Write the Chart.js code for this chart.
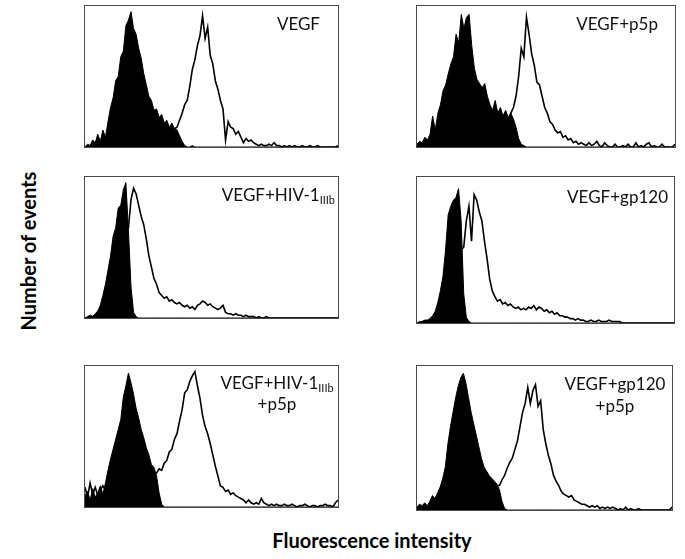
<!DOCTYPE html>
<html>
<head>
<meta charset="utf-8">
<script src="https://cdn.jsdelivr.net/npm/chart.js@4"></script>
<style>
  body { margin: 0; background: #fff; width: 685px; height: 559px; position: relative; overflow: hidden; font-family: Lato, sans-serif; color: #111; }
  .panel { position: absolute; border: 1px solid #4a4a4a; box-sizing: border-box; background: #fff; z-index: 1; }
  .panel canvas { display: block; }
  .lab { position: absolute; z-index: 2; font-size: 17px; line-height: 20px; white-space: nowrap; }
  .lab sub { font-size: 11px; line-height: 0; vertical-align: -3px; }
  .axis { position: absolute; font-weight: bold; font-size: 20px; line-height: 24px; text-align: center; white-space: nowrap; color: #000; }
</style>
</head>
<body>

<div class="axis" style="left:-72px; top:239px; width:200px; transform:rotate(-90deg);">Number of events</div>
<div class="axis" style="left:222px; top:528px; width:300px;">Fluorescence intensity</div>

<div class="lab" style="right:365px; top:14px;">VEGF</div>
<div class="lab" style="right:27px; top:14px;">VEGF+p5p</div>
<div class="lab" style="right:350px; top:185px;">VEGF+HIV-1<sub>IIIb</sub></div>
<div class="lab" style="right:17px; top:187px;">VEGF+gp120</div>
<div class="lab" style="left:197px; width:160px; top:372px; line-height:21px; text-align:center;">VEGF+HIV-1<sub>IIIb</sub><br>+p5p</div>
<div class="lab" style="left:535px; width:160px; top:373px; line-height:22px; text-align:center;">VEGF+gp120<br>+p5p</div>

<script>
// histogram channels (x axis, 100 bins across the log scale)
const channels = Array.from({ length: 100 }, (_, i) => i);

// filled histograms = control, open histograms = VEGF-treated (events as % of panel height)
const vegfCtrl = [
  0,2,1,5,3,9,4,12,7,18,
  28,35,47,50,64,68,86,90,96,84,
  80,70,63,52,44,36,33,26,27,21,
  23,17,19,14,17,13,12,8,4,1,
  0,0,1,0,0,0,0,0,0,0,
  0,0,0,0,0,0,0,0,0,0,
  0,0,0,0,0,0,0,0,0,0,
  0,0,0,0,0,0,0,0,0,0,
  0,0,0,0,0,0,0,0,0,0,
  0,0,0,0,0,0,0,0,0,0
];
const vegfOpen = [
  0,0,1,1,2,2,3,3,4,5,
  5,6,6,7,7,8,8,9,9,10,
  10,11,11,12,12,12,13,13,13,13,
  13,13,12,12,12,13,14,19,24,30,
  33,43,55,62,72,79,93,77,85,65,
  59,47,41,33,27,5,18,14,13,9,
  11,7,3,6,4,5,3,2,1,2,
  1,1,2,1,3,1,1,0,1,0,
  1,0,1,0,0,1,0,0,1,0,
  0,1,0,0,0,0,0,0,0,1
];

const p5pCtrl = [
  2,4,3,7,5,9,22,12,24,30,
  40,44,52,59,64,80,74,94,84,92,
  94,72,56,48,45,42,45,36,30,26,
  33,24,28,22,26,21,24,20,14,6,
  2,1,0,0,0,0,0,0,0,0,
  0,0,0,0,0,0,0,0,0,0,
  0,0,0,0,0,0,0,0,0,0,
  0,0,0,0,0,0,0,0,0,0,
  0,0,0,0,0,0,0,0,0,0,
  0,0,0,0,0,0,0,0,0,0
];
const p5pOpen = [
  0,0,1,1,1,2,2,2,3,3,
  4,4,5,5,6,6,7,7,8,8,
  9,9,10,10,11,11,12,12,13,14,
  14,15,16,17,18,19,24,28,36,50,
  70,64,92,80,66,58,46,44,36,28,
  24,18,16,12,10,11,7,8,5,6,
  3,4,2,3,2,1,3,1,2,4,
  1,0,3,1,0,0,2,0,0,1,
  0,2,0,0,3,0,1,0,2,3,
  0,1,0,0,2,0,0,0,0,2
];

const hivCtrl = [
  0,1,2,1,3,5,9,16,24,34,
  44,58,64,78,80,91,96,62,22,4,
  1,0,0,0,0,0,0,0,0,0,
  0,0,0,0,0,0,0,0,0,0,
  0,0,0,0,0,0,0,0,0,0,
  0,0,0,0,0,0,0,0,0,0,
  0,0,0,0,0,0,0,0,0,0,
  0,0,0,0,0,0,0,0,0,0,
  0,0,0,0,0,0,0,0,0,0,
  0,0,0,0,0,0,0,0,0,0
];
const hivOpen = [
  0,0,1,1,2,3,5,8,12,18,
  24,32,38,44,50,55,60,64,84,92,
  88,80,72,66,56,44,36,28,24,18,
  16,14,15,12,13,11,10,11,9,8,
  9,7,8,6,9,10,12,11,9,10,
  8,7,6,7,9,4,3,3,2,3,
  2,2,1,2,1,1,1,0,1,0,
  0,1,0,0,0,0,0,0,0,0,
  0,0,0,0,0,0,0,0,0,0,
  0,0,0,0,0,0,0,0,0,0
];

const gpCtrl = [
  0,1,1,2,2,3,5,8,14,22,
  32,50,74,80,84,86,92,70,20,4,
  1,0,0,0,0,0,0,0,0,0,
  0,0,0,0,0,0,0,0,0,0,
  0,0,0,0,0,0,0,0,0,0,
  0,0,0,0,0,0,0,0,0,0,
  0,0,0,0,0,0,0,0,0,0,
  0,0,0,0,0,0,0,0,0,0,
  0,0,0,0,0,0,0,0,0,0,
  0,0,0,0,0,0,0,0,0,0
];
const gpOpen = [
  0,0,1,1,1,2,3,5,8,12,
  18,26,34,40,46,50,52,50,52,70,
  80,56,88,84,76,70,56,44,30,22,
  18,15,16,13,14,12,13,11,10,11,
  9,10,9,11,10,12,9,11,10,8,
  9,7,8,6,7,5,5,4,4,3,
  3,2,3,2,2,1,1,2,1,1,
  2,1,1,1,2,1,1,1,1,0,
  0,0,0,0,0,0,0,0,0,0,
  0,0,0,0,0,0,0,0,0,0
];

const hivP5pCtrl = [
  8,11,5,13,7,10,15,9,17,26,
  34,41,48,55,62,78,86,95,88,80,
  70,63,55,49,42,37,30,28,22,10,
  2,0,0,0,0,0,0,0,0,0,
  0,0,0,0,0,0,0,0,0,0,
  0,0,0,0,0,0,0,0,0,0,
  0,0,0,0,0,0,0,0,0,0,
  0,0,0,0,0,0,0,0,0,0,
  0,0,0,0,0,0,0,0,0,0,
  0,0,0,0,0,0,0,0,0,0
];
const hivP5pOpen = [
  14,7,17,9,14,8,12,15,12,14,
  16,15,17,16,18,17,19,18,20,19,
  21,20,22,21,23,22,24,23,24,27,
  26,31,33,39,41,48,52,61,69,81,
  83,89,93,96,86,77,65,57,52,45,
  37,29,22,15,14,11,12,9,10,8,
  7,6,5,3,5,3,2,3,2,6,
  3,2,1,2,1,2,1,1,2,1,
  1,2,1,0,1,1,2,1,0,1,
  1,0,1,1,2,1,1,0,3,5
];

const gpP5pCtrl = [
  2,4,3,5,3,6,10,8,12,16,
  22,30,46,58,68,78,86,92,95,88,
  78,68,60,52,44,36,30,27,24,22,
  20,18,14,6,1,0,0,0,0,0,
  0,0,0,0,0,0,0,0,0,0,
  0,0,0,0,0,0,0,0,0,0,
  0,0,0,0,0,0,0,0,0,0,
  0,0,0,0,0,0,0,0,0,0,
  0,0,0,0,0,0,0,0,0,0,
  0,0,0,0,0,0,0,0,0,0
];
const gpP5pOpen = [
  0,1,1,2,1,2,3,2,4,5,
  6,7,8,9,10,11,12,12,13,13,
  14,14,14,15,15,15,16,16,16,16,
  17,17,17,21,24,29,33,36,42,48,
  58,68,74,85,74,83,87,72,76,56,
  46,38,32,24,20,17,13,11,10,9,
  10,7,6,5,4,4,3,2,3,2,
  3,1,2,1,2,1,2,1,0,1,
  0,2,0,1,0,0,1,0,0,0,
  0,0,0,0,0,0,0,0,0,2
];

// panel boxes on the page
const panels = [
  { ctrl: vegfCtrl,   open: vegfOpen,   left: 84,  top: 5,   w: 255, h: 143 },
  { ctrl: p5pCtrl,    open: p5pOpen,    left: 416, top: 5,   w: 260, h: 143 },
  { ctrl: hivCtrl,    open: hivOpen,    left: 84,  top: 176, w: 255, h: 143 },
  { ctrl: gpCtrl,     open: gpOpen,     left: 416, top: 176, w: 259, h: 148 },
  { ctrl: hivP5pCtrl, open: hivP5pOpen, left: 84,  top: 365, w: 255, h: 143 },
  { ctrl: gpP5pCtrl,  open: gpP5pOpen,  left: 416, top: 365, w: 257, h: 146 }
];

panels.forEach(p => {
  const box = document.createElement('div');
  box.className = 'panel';
  box.style.left = p.left + 'px';
  box.style.top = p.top + 'px';
  box.style.width = p.w + 'px';
  box.style.height = p.h + 'px';
  const cv = document.createElement('canvas');
  cv.width = p.w - 2;
  cv.height = p.h - 2;
  box.appendChild(cv);
  document.body.appendChild(box);

  new Chart(cv.getContext('2d'), {
    type: 'line',
    data: {
      labels: channels,
      datasets: [
        {
          label: 'VEGF',
          data: p.open,
          borderColor: '#000',
          borderWidth: 1.6,
          fill: false,
          order: 0
        },
        {
          label: 'control',
          data: p.ctrl,
          borderColor: '#000',
          backgroundColor: '#000',
          borderWidth: 1,
          fill: 'origin',
          order: 1
        }
      ]
    },
    options: {
      responsive: false,
      animation: false,
      events: [],
      layout: { padding: 0 },
      elements: { point: { radius: 0 }, line: { tension: 0 } },
      plugins: { legend: { display: false }, tooltip: { enabled: false } },
      scales: {
        x: { display: false },
        y: { display: false, min: 0, max: 100 }
      }
    }
  });
});
</script>
</body>
</html>
